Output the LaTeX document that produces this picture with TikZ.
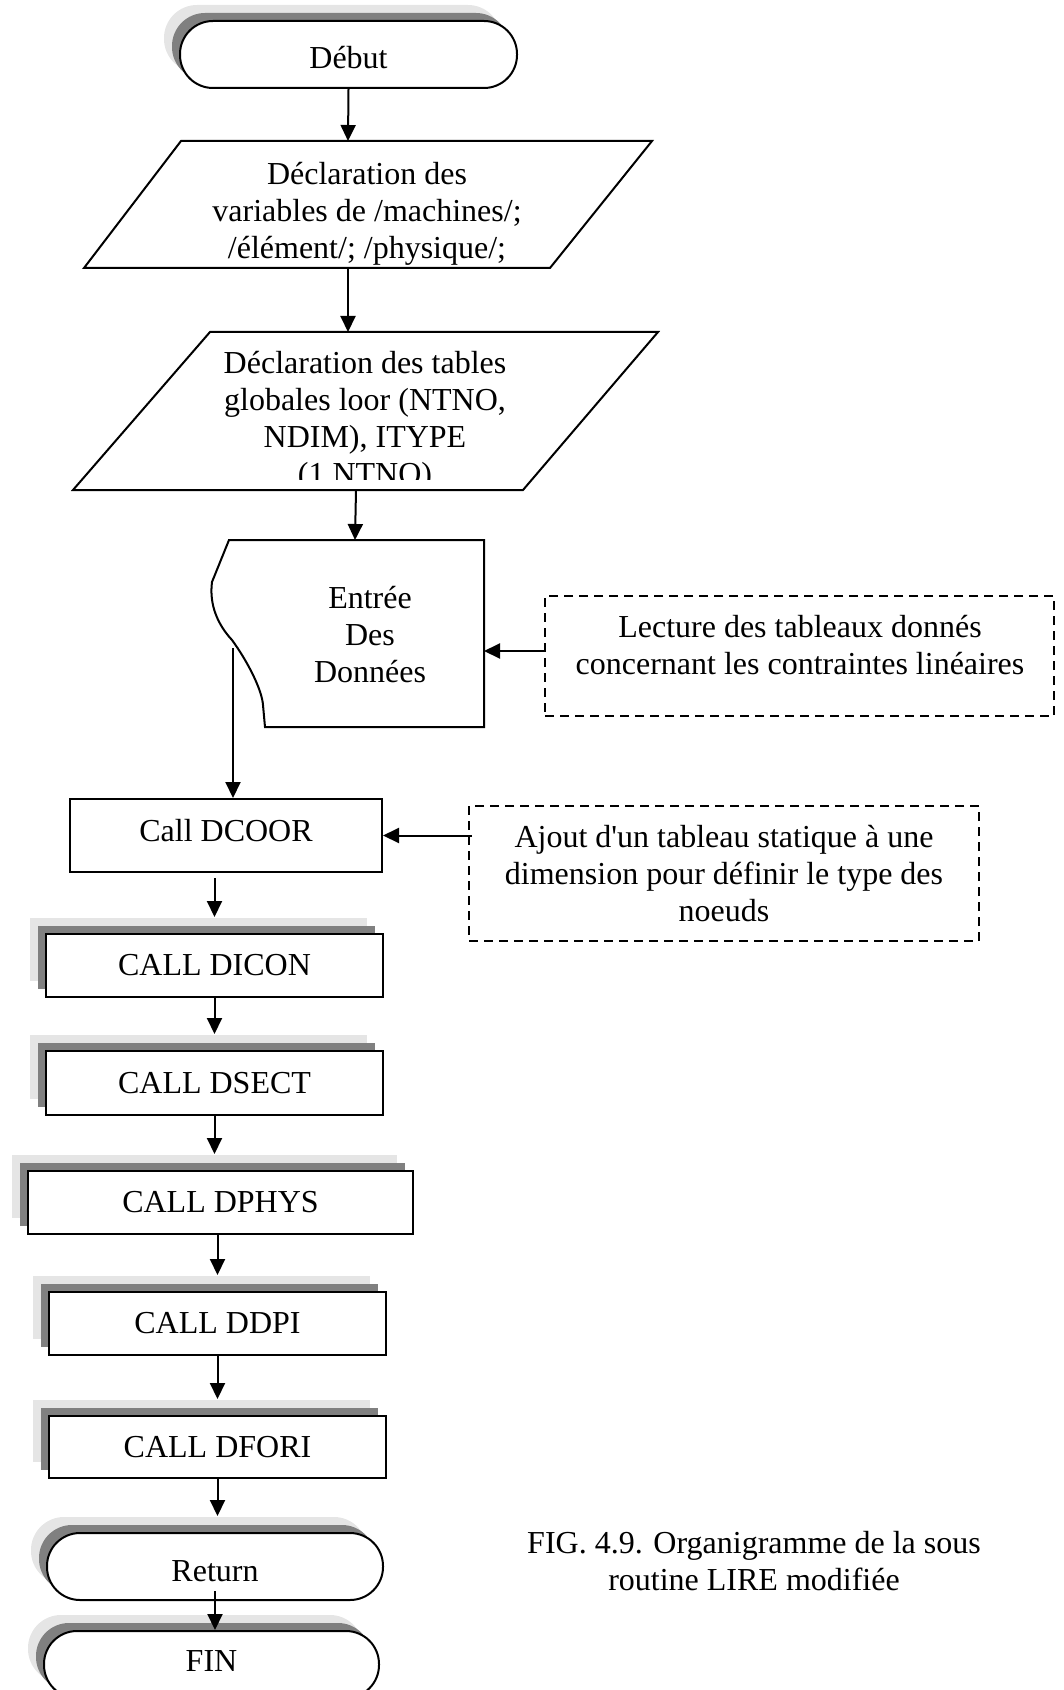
\documentclass[tikz,border=0pt]{standalone}
\usepackage{fontspec}
\newfontfamily\chartfont{Liberation Serif}
\usetikzlibrary{arrows.meta,shadows}

\begin{document}
\begin{tikzpicture}[x=0.5pt,y=-0.5pt,
  txt/.style={font=\chartfont\fontsize{16}{18.5}\selectfont, align=center},
  box/.style={txt, draw, line width=1pt, fill=white, inner sep=0pt},
  term/.style={box, rounded corners=#1},
  layered/.style={
    copy shadow={shadow xshift=-8pt, shadow yshift=8pt, fill=black!10, draw=none},
    copy shadow={shadow xshift=-4pt, shadow yshift=4pt, fill=black!50, draw=none}},
  note/.style={draw, line width=0.8pt, dash pattern=on 4.5pt off 3pt, inner sep=0pt},
  arr/.style={line width=1pt, -{Triangle[length=8pt,width=7.5pt]}},
  toshadow/.style={shorten >=8pt},
  outline/.style={draw, line width=1pt, fill=white},
]
\useasboundingbox (0,0) rectangle (1064,1690);
\clip (0,0) rectangle (1064,1690);

% start terminal
\node[term=16.5pt, layered, minimum width=168.5pt, minimum height=33.5pt,
      text height=13.6pt, text depth=0pt] (debut) at (348.5,54.5) {Début};

% first declaration block (parallelogram)
\path[outline] (181,141) -- (652,141) -- (550,268) -- (84,268) -- cycle;
\node[txt] (decl1) at (367,213.5) {Déclaration des\\variables de /machines/;\\/élément/; /physique/;};
\coordinate (p1n) at (348,141);
\coordinate (p1s) at (348,268);

% second declaration block (parallelogram, last line cut by the frame)
\path[outline] (210,332) -- (658,332) -- (523,490) -- (73,490) -- cycle;
\begin{scope}
  \clip (0,332) rectangle (1064,479);
  \node[txt] (decl2) at (365,421) {Déclaration des tables\\globales loor (NTNO,\\NDIM), ITYPE\\(1 NTNO)};
\end{scope}
\coordinate (p2n) at (348,332);
\coordinate (p2s) at (356,490);

% data input (document shape)
\path[outline] (229,540) -- (212,582) .. controls (209,605) and (218,625) .. (232,640)
  .. controls (248,662) and (262,690) .. (263,705) -- (265,727) -- (484,727) -- (484,540) -- cycle;
\node[txt] (entree) at (370,635) {Entrée\\Des\\Données};
\coordinate (docN) at (355,540);
\coordinate (docE) at (484,540);
\coordinate (docOut) at (233,648);

% side notes
\node[note, minimum width=254.5pt, minimum height=60pt] (lect) at (799.5,656) {};
\node[txt] (lecttxt) at (800,645.5) {Lecture des tableaux donnés\\concernant les contraintes linéaires};
\coordinate (lin) at ([yshift=2.5pt]lect.west);
\node[note, txt, minimum width=255pt, minimum height=67.5pt] (ajout) at (724,873.5)
  {Ajout d'un tableau statique à une\\dimension pour définir le type des\\noeuds};

% calls
\node[box, minimum width=156pt, minimum height=36.5pt, text height=10pt, text depth=3.9pt]
  (dcoor) at (226,835.5) {Call DCOOR};
\node[box, layered, minimum width=168.5pt, minimum height=31.5pt] (dicon) at (214.5,965.5) {CALL DICON};
\node[box, layered, minimum width=168.5pt, minimum height=32pt] (dsect) at (214.5,1083) {CALL DSECT};
\node[box, layered, minimum width=192.5pt, minimum height=31.5pt] (dphys) at (220.5,1202.5) {CALL DPHYS};
\node[box, layered, minimum width=168.5pt, minimum height=31.5pt] (ddpi) at (217.5,1323.5) {CALL DDPI};
\node[box, layered, minimum width=168.5pt, minimum height=31pt] (dfori) at (217.5,1447) {CALL DFORI};

% end terminals
\node[term=16.5pt, layered, minimum width=168pt, minimum height=33.5pt,
      text height=15.1pt, text depth=0pt] (ret) at (215,1566.5) {Return};
\node[term=16.5pt, layered, minimum width=167.5pt, minimum height=33.5pt,
      text height=7.1pt, text depth=0pt] (fin) at (211.5,1664.5) {FIN};

% caption
\node[txt] (cap) at (754,1561.5) {FIG. 4.9. Organigramme de la sous\\routine LIRE modifiée};

% connectors
\draw[arr] (debut.south) -- (p1n);
\draw[arr] (p1s) -- (p2n);
\draw[arr] (p2s) -- (docN);
\draw[arr] (lin) -- (lin -| docE);
\draw[arr] (docOut) -- (docOut |- dcoor.north);
\draw[arr, shorten <=-2pt] (ajout.west |- dcoor.east) -- (dcoor.east);
\draw[arr, toshadow, shorten <=2.5pt] (dcoor.south -| dicon.north) -- (dicon.north);
\draw[arr, toshadow] (dicon.south) -- (dsect.north);
\draw[arr, toshadow] (dsect.south) -- (dsect.south |- dphys.north);
\draw[arr, toshadow] (ddpi.north |- dphys.south) -- (ddpi.north);
\draw[arr, toshadow] (ddpi.south) -- (dfori.north);
\draw[arr, toshadow] (dfori.south) -- (dfori.south |- ret.north);
\draw[arr, shorten <=-5pt] (ret.south) -- (ret.south |- fin.north);
\end{tikzpicture}
\end{document}
